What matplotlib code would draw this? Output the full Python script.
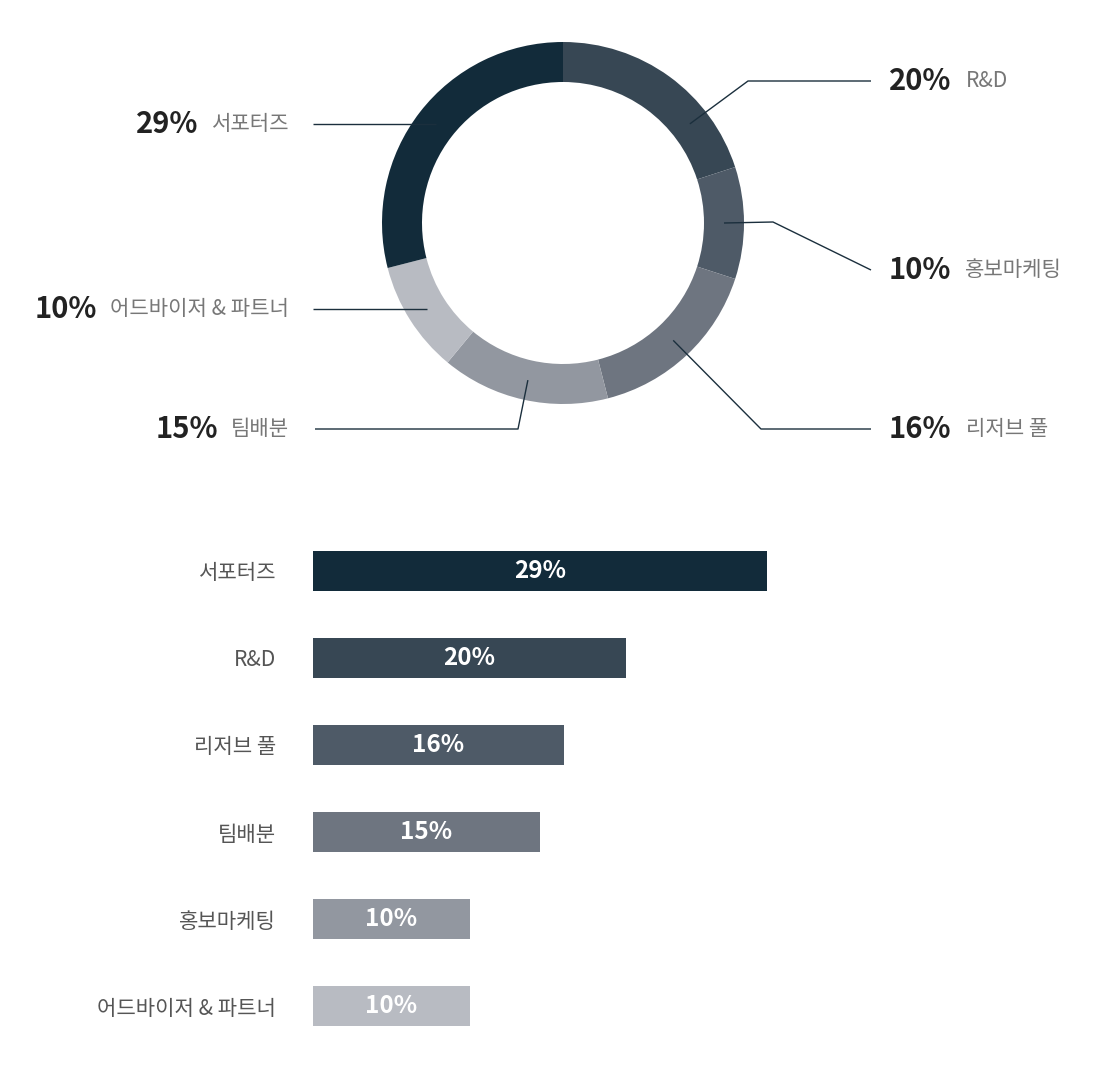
import numpy as np
import matplotlib.pyplot as plt

plt.rcParams['font.family'] = ['Noto Sans CJK KR', 'DejaVu Sans']

W, H = 1114, 1066

# 도넛: 12시 방향부터 시계방향
donut_names = ['R&D', '홍보마케팅', '리저브 풀', '팀배분', '어드바이저 & 파트너', '서포터즈']
donut_values = [20, 10, 16, 15, 10, 29]
donut_colors = ['#374754', '#4E5A67', '#6E7580', '#9297A0', '#B8BBC2', '#122B3A']

# 막대 (위에서 아래)
bar_names = ['서포터즈', 'R&D', '리저브 풀', '팀배분', '홍보마케팅', '어드바이저 & 파트너']
bar_values = [29, 20, 16, 14.5, 10, 10]
bar_labels = ['29%', '20%', '16%', '15%', '10%', '10%']
bar_colors = ['#122B3A', '#374754', '#4E5A67', '#6E7580', '#9297A0', '#B8BBC2']

LINE = '#1B2F3D'
DARK = '#222222'
GRAY = '#777777'

def py(y):
    # 픽셀 y (위에서부터) -> 데이터 y
    return H - y

fig = plt.figure(figsize=(W / 100, H / 100), dpi=100)
ax = fig.add_axes([0, 0, 1, 1])

cx, cy, R = 563, 223, 181
wedges, _ = ax.pie(donut_values, colors=donut_colors, startangle=90, counterclock=False,
                   center=(cx, py(cy)), radius=R, frame=True,
                   wedgeprops=dict(width=40, linewidth=0, edgecolor='none'))
ax.set_xlim(0, W)
ax.set_ylim(0, H)
ax.set_aspect('equal')
ax.axis('off')

# 지시선: 안쪽 끝 각도 보정, 꺾이는 점, 바깥 끝
nudge = [-16, 0, 0, 0, 0, 0]
elbows = [(748, 81), (773, 222), (761, 429), (518, 429), None, None]
ends = [(871, 81), (871, 270), (871, 429), (315, 429), (313, None), (313, None)]
sides = ['r', 'r', 'r', 'l', 'l', 'l']

renderer = fig.canvas.get_renderer()

for w, name, val, nd, el, en, sd in zip(wedges, donut_names, donut_values, nudge, elbows, ends, sides):
    mid = np.radians((w.theta1 + w.theta2) / 2 + nd)
    ax_x = cx + 161 * np.cos(mid)
    ax_y = py(cy) + 161 * np.sin(mid)
    ex, ey = en
    if ey is None:
        ey_d = ax_y
    else:
        ey_d = py(ey)
    xs = [ax_x]
    ys = [ax_y]
    if el is not None:
        xs.append(el[0])
        ys.append(py(el[1]))
    xs.append(ex)
    ys.append(ey_d)
    ax.plot(xs, ys, color=LINE, lw=1.0, solid_capstyle='butt')

    pct = f'{val}%'
    if sd == 'r':
        t = ax.text(889, ey_d, pct, ha='left', va='center', fontsize=21,
                    fontweight='bold', color=DARK)
        bb = t.get_window_extent(renderer)
        ax.text(bb.x1 + 14, ey_d, name, ha='left', va='center', fontsize=15.2, color=GRAY)
    else:
        t = ax.text(289, ey_d, name, ha='right', va='center', fontsize=15.2, color=GRAY)
        bb = t.get_window_extent(renderer)
        ax.text(bb.x0 - 13, ey_d, pct, ha='right', va='center', fontsize=21,
                fontweight='bold', color=DARK)

# 막대 차트
px_per_pct = 15.66
bx = fig.add_axes([313 / W, (H - 1050) / H, 700 / W, 523 / H])
ypos = np.arange(len(bar_values))
bx.barh(ypos, bar_values, height=0.46, color=bar_colors)
bx.set_xlim(0, 700 / px_per_pct)
bx.set_ylim(len(bar_values) - 0.5, -0.5)
bx.set_yticks(ypos)
bx.set_yticklabels(bar_names, fontsize=15.2, color='#555555', fontweight='medium')
bx.tick_params(axis='y', length=0, pad=26.5)
bx.set_xticks([])
for s in bx.spines.values():
    s.set_visible(False)
for i, (v, lab) in enumerate(zip(bar_values, bar_labels)):
    bx.text(v / 2, i, lab, ha='center', va='center', color='white',
            fontsize=17.5, fontweight='bold')

fig.savefig('out.png', dpi=100, facecolor='white')
